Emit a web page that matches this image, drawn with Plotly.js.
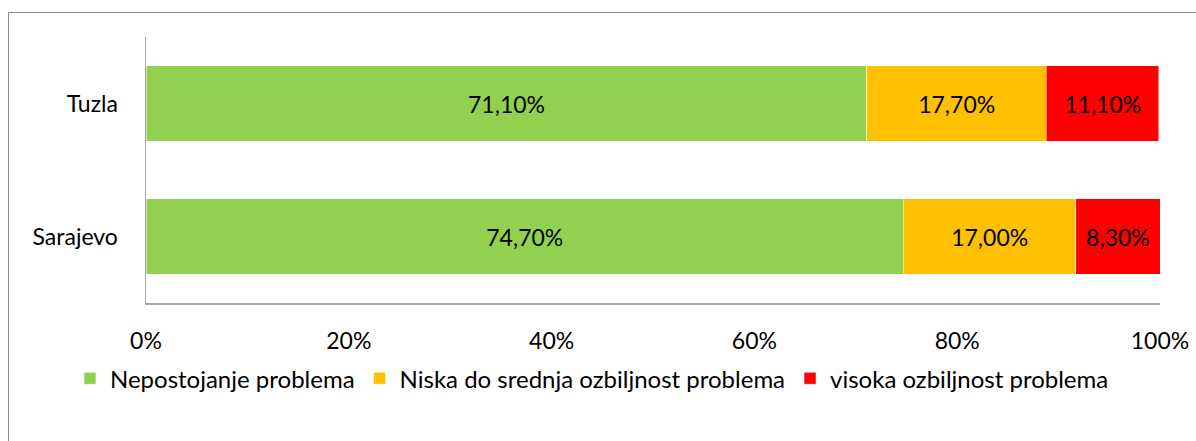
<!DOCTYPE html>
<html><head><meta charset="utf-8">
<script src="https://cdn.plot.ly/plotly-3.0.1.min.js"></script>
<style>
html,body{margin:0;padding:0;background:#fff;}
#wrap{position:relative;width:1196px;height:441px;}
#chart{width:1196px;height:441px;}
#frame{position:absolute;left:8px;top:12px;width:1200px;height:440px;border-left:1px solid #8c8c8c;border-top:1px solid #8c8c8c;pointer-events:none;}
</style></head>
<body><div id="wrap"><div id="chart"></div><div id="frame"></div></div>
<script>
const cities = ['Sarajevo', 'Tuzla'];
const seriesNames = ['Nepostojanje problema', 'Niska do srednja ozbiljnost problema', 'visoka ozbiljnost problema'];
const nepostojanje = [0.747, 0.711];
const niskaSrednja = [0.170, 0.177];
const visoka = [0.083, 0.111];
const colors = ['#92D050', '#FFC000', '#FF0000'];
const xTickVals = [0, 0.2, 0.4, 0.6, 0.8, 1.0];
const xTickText = ['0%', '20%', '40%', '60%', '80%', '100%'];

const F = 'Lato, sans-serif';
const FS = 23;
const allVals = [nepostojanje, niskaSrednja, visoka];
const traces = allVals.map((vals, i) => ({
  type: 'bar', orientation: 'h', name: seriesNames[i],
  y: cities, x: vals,
  marker: {color: colors[i], line: {color: '#fff', width: 0.5}},
  texttemplate: '%{x:.2%}', textposition: 'inside', insidetextanchor: 'middle',
  textangle: 0, constraintext: 'none',
  textfont: {family: F, size: FS, color: '#000'},
  hoverinfo: 'x+y'
}));

const layout = {
  width: 1196, height: 441,
  margin: {l: 146, r: 36, t: 37, b: 138},
  barmode: 'stack', bargap: 0.43,
  separators: ',.',
  paper_bgcolor: '#fff', plot_bgcolor: '#fff',
  font: {family: F, size: FS, color: '#000'},
  xaxis: {range: [0, 1], tickvals: xTickVals, ticktext: xTickText,
    showgrid: false, zeroline: false, showline: true, linecolor: '#A6A6A6', linewidth: 1.5,
    ticks: 'outside', ticklen: 17, tickcolor: 'rgba(0,0,0,0)',
    tickfont: {family: F, size: FS, color: '#000'}, fixedrange: true},
  yaxis: {showgrid: false, zeroline: false, showline: true, linecolor: '#A6A6A6', linewidth: 1.5,
    ticks: 'outside', ticklen: 22, tickcolor: 'rgba(0,0,0,0)',
    tickfont: {family: F, size: FS, color: '#000'}, fixedrange: true},
  showlegend: true,
  legend: {orientation: 'h', x: -0.075, xanchor: 'left', y: -0.2, yanchor: 'top',
    font: {family: F, size: 24, color: '#000'}, traceorder: 'normal', itemwidth: 30}
};
Plotly.newPlot('chart', traces, layout, {displayModeBar: false, staticPlot: true});
</script></body></html>
